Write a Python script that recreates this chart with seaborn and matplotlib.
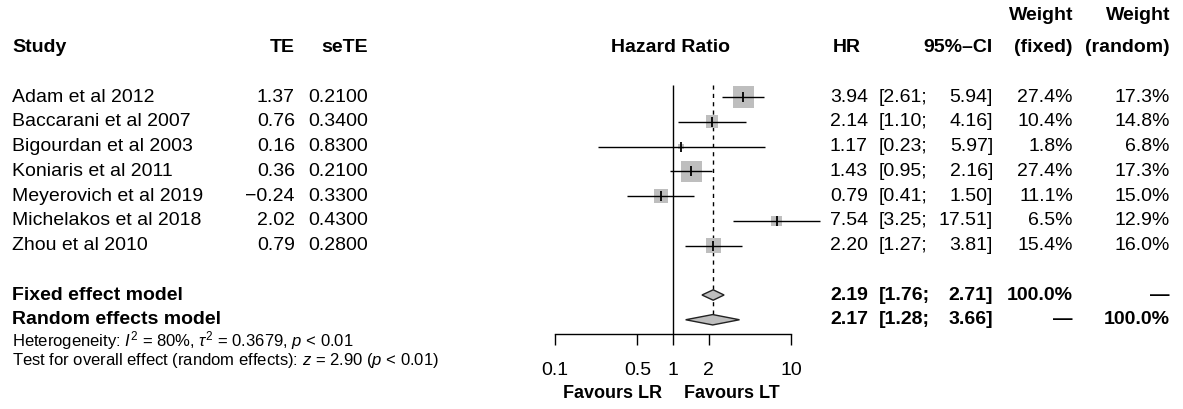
import numpy as np
import pandas as pd
import matplotlib
matplotlib.use("Agg")
import matplotlib.pyplot as plt
import seaborn as sns

# study level data
studies = ["Adam et al 2012", "Baccarani et al 2007", "Bigourdan et al 2003",
           "Koniaris et al 2011", "Meyerovich et al 2019", "Michelakos et al 2018",
           "Zhou et al 2010"]
te = [1.37, 0.76, 0.16, 0.36, -0.24, 2.02, 0.79]
se_te = [0.21, 0.34, 0.83, 0.21, 0.33, 0.43, 0.28]
hr = [3.94, 2.14, 1.17, 1.43, 0.79, 7.54, 2.20]
ci_lo = [2.61, 1.10, 0.23, 0.95, 0.41, 3.25, 1.27]
ci_hi = [5.94, 4.16, 5.97, 2.16, 1.50, 17.51, 3.81]
w_fixed = [27.4, 10.4, 1.8, 27.4, 11.1, 6.5, 15.4]
w_random = [17.3, 14.8, 6.8, 17.3, 15.0, 12.9, 16.0]

# pooled estimates
models = ["Fixed effect model", "Random effects model"]
model_hr = [2.19, 2.17]
model_lo = [1.76, 1.28]
model_hi = [2.71, 3.66]
model_wf = ["100.0%", "\u2014"]
model_wr = ["\u2014", "100.0%"]

het_text = r"Heterogeneity: $I^2$ = 80%, $\tau^2$ = 0.3679, $p$ < 0.01"
test_text = r"Test for overall effect (random effects): $z$ = 2.90 ($p$ < 0.01)"

ticks = [0.1, 0.5, 1, 2, 10]
tick_labels = ["0.1", "0.5", "1", "2", "10"]

sns.set_theme(style="white")
plt.rcParams["font.family"] = ["Liberation Sans", "DejaVu Sans"]
plt.rcParams["mathtext.fontset"] = "custom"
plt.rcParams["mathtext.rm"] = "Liberation Sans"
plt.rcParams["mathtext.it"] = "Liberation Sans:italic"
plt.rcParams["text.color"] = "black"
plt.rcParams["xtick.color"] = "black"
plt.rcParams["axes.labelcolor"] = "black"

W, H = 1183, 409
ROW0, ROWH = 97, 24.75          # pixel y of first study row, row height


def r(px):
    return (px - ROW0) / ROWH


y_top, y_bot = r(0), r(H)
axis_px = 334

fig = plt.figure(figsize=(W / 100, H / 100), dpi=100)

# table axes covering the whole figure (x in pixels, y in rows)
tab = fig.add_axes([0, 0, 1, 1])
tab.set_xlim(0, W)
tab.set_ylim(y_bot, y_top)
tab.axis("off")

# forest axes
fx0, fx1 = 450, 850
px_dec = 118.0
fa = fig.add_axes([fx0 / W, (H - axis_px) / H, (fx1 - fx0) / W, axis_px / H])
fa.set_xscale("log")
fa.patch.set_alpha(0)

rows = np.arange(len(studies))
df = pd.DataFrame({"hr": hr, "row": rows, "w": w_fixed})

# reference lines
top_row = r(85)
fa.vlines(1, top_row, r(axis_px), color="black", lw=1, zorder=1)
fa.vlines(model_hr[0], top_row, len(studies) + 2, color="black", lw=1,
          linestyles=(0, (3, 3)), zorder=1)

# squares (area proportional to fixed weight)
sns.scatterplot(data=df, x="hr", y="row", size="w", sizes=(0, 230),
                size_norm=(0, max(w_fixed)), marker="s", color="#bebebe",
                edgecolor="none", legend=False, ax=fa, zorder=2)
fa.hlines(rows, ci_lo, ci_hi, color="black", lw=1, zorder=3)
fa.plot(hr, rows, ls="none", marker="|", ms=7, mew=1.3, color="black", zorder=4)

# diamonds
for i in range(2):
    yr = len(studies) + 1 + i
    h = 0.21
    fa.fill([model_lo[i], model_hr[i], model_hi[i], model_hr[i]],
            [yr, yr - h, yr, yr + h], facecolor="#bebebe", edgecolor="#222222",
            lw=1, zorder=5)

fa.set_xlim(10 ** (-1 + (fx0 - 555) / px_dec), 10 ** (-1 + (fx1 - 555) / px_dec))
fa.set_ylim(r(axis_px), y_top)
fa.set_xlabel("")
fa.set_ylabel("")
for s in ["top", "right", "left"]:
    fa.spines[s].set_visible(False)
fa.spines["bottom"].set_bounds(ticks[0], ticks[-1])
fa.spines["bottom"].set_linewidth(1)
fa.spines["bottom"].set_color("black")
fa.set_xticks(ticks)
fa.set_xticklabels(tick_labels)
fa.minorticks_off()
fa.set_yticks([])
fa.tick_params(axis="x", direction="out", length=8, width=1, color="black",
               labelsize=14, labelcolor="black", pad=12, bottom=True)
fa.grid(False)

fa.annotate("Favours LR", xy=(1, r(393)), xytext=(-8, 0), textcoords="offset points",
            ha="right", va="center", fontsize=13, fontweight="bold",
            annotation_clip=False)
fa.annotate("Favours LT", xy=(1, r(393)), xytext=(8, 0), textcoords="offset points",
            ha="left", va="center", fontsize=13, fontweight="bold",
            annotation_clip=False)

# column positions (pixels)
x_study, x_te, x_se = 12, 295, 368
x_hr, x_cil, x_cir, x_wf, x_wr = 868, 879, 993, 1073, 1170
fs = 14
hb = dict(fontsize=fs, fontweight="bold", va="center")

# headers
yh = r(47)
tab.text(x_study, yh, "Study", ha="left", **hb)
tab.text(x_te, yh, "TE", ha="right", **hb)
tab.text(x_se, yh, "seTE", ha="right", **hb)
tab.text(671, yh, "Hazard Ratio", ha="center", **hb)
tab.text(861, yh, "HR", ha="right", **hb)
tab.text(x_cir, yh, "95%\u2013CI", ha="right", **hb)
tab.text(x_wf, r(15), "Weight", ha="right", **hb)
tab.text(x_wr, r(15), "Weight", ha="right", **hb)
tab.text(x_wf, yh, "(fixed)", ha="right", **hb)
tab.text(x_wr, yh, "(random)", ha="right", **hb)

# study rows
for i, name in enumerate(studies):
    kw = dict(fontsize=fs, va="center")
    tab.text(x_study, i, name, ha="left", **kw)
    tab.text(x_te, i, f"{te[i]:.2f}".replace("-", "\u2212"), ha="right", **kw)
    tab.text(x_se, i, f"{se_te[i]:.4f}", ha="right", **kw)
    tab.text(x_hr, i, f"{hr[i]:.2f}", ha="right", **kw)
    tab.text(x_cil, i, f"[{ci_lo[i]:.2f};", ha="left", **kw)
    tab.text(x_cir, i, f"{ci_hi[i]:.2f}]", ha="right", **kw)
    tab.text(x_wf, i, f"{w_fixed[i]:.1f}%", ha="right", **kw)
    tab.text(x_wr, i, f"{w_random[i]:.1f}%", ha="right", **kw)

# model rows
for i, name in enumerate(models):
    yr = len(studies) + 1 + i
    tab.text(x_study, yr, name, ha="left", **hb)
    tab.text(x_hr, yr, f"{model_hr[i]:.2f}", ha="right", **hb)
    tab.text(x_cil, yr, f"[{model_lo[i]:.2f};", ha="left", **hb)
    tab.text(x_cir, yr, f"{model_hi[i]:.2f}]", ha="right", **hb)
    tab.text(x_wf, yr, model_wf[i], ha="right", **hb)
    tab.text(x_wr, yr, model_wr[i], ha="right", **hb)

tab.text(x_study, r(341), het_text, ha="left", va="center", fontsize=12)
tab.text(x_study, r(361), test_text, ha="left", va="center", fontsize=12)

fig.savefig("out.png", dpi=100, facecolor="white")
